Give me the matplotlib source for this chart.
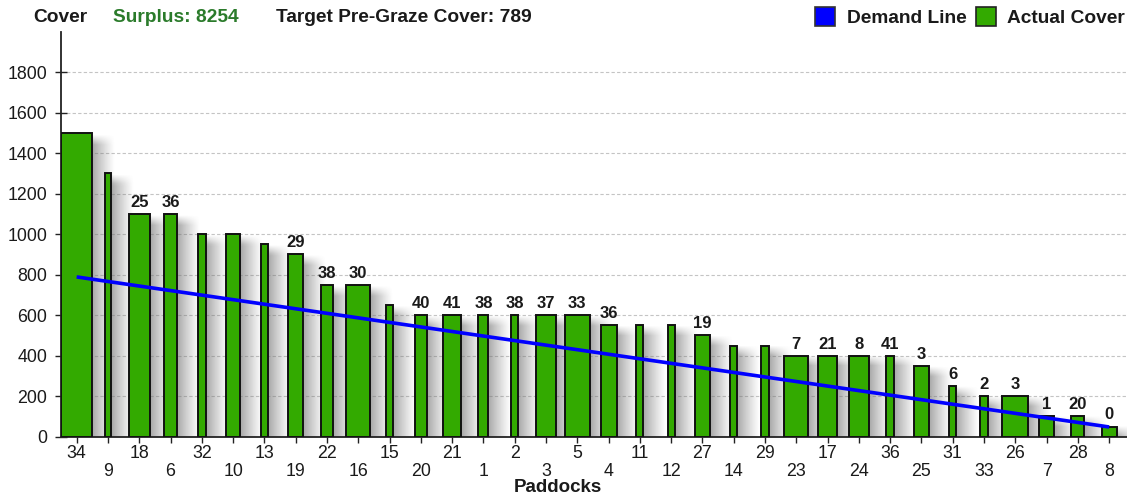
import numpy as np
import matplotlib
matplotlib.use('Agg')
import matplotlib.pyplot as plt
from matplotlib.patches import Patch

# ---------------- data ----------------
paddocks = ['34', '9', '18', '6', '32', '10', '13', '19', '22', '16', '15', '20',
            '21', '1', '2', '3', '5', '4', '11', '12', '27', '14', '29', '23',
            '17', '24', '36', '25', '31', '33', '26', '7', '28', '8']
cover = [1500, 1300, 1100, 1100, 1000, 1000, 950, 900, 750, 750, 650, 600,
         600, 600, 600, 600, 600, 550, 550, 550, 500, 450, 450, 400,
         400, 400, 400, 350, 250, 200, 200, 100, 100, 50]
# relative bar widths (paddock size)
widths = [0.99, 0.21, 0.66, 0.40, 0.25, 0.47, 0.23, 0.47, 0.37, 0.78, 0.21, 0.39,
          0.56, 0.32, 0.21, 0.66, 0.80, 0.51, 0.23, 0.23, 0.46, 0.23, 0.23, 0.78,
          0.58, 0.66, 0.24, 0.47, 0.24, 0.28, 0.83, 0.48, 0.42, 0.48]
bar_labels = ['', '', '25', '36', '', '', '', '29', '38', '30', '', '40',
              '41', '38', '38', '37', '33', '36', '', '', '19', '', '', '7',
              '21', '8', '41', '3', '6', '2', '3', '1', '20', '0']
demand_paddocks = ['34', '8']
demand_values = [789, 48]
surplus = 8254
target_cover = 789
y_ticks = [0, 200, 400, 600, 800, 1000, 1200, 1400, 1600, 1800]

# ---------------- style ----------------
GREEN = '#33AA00'
BLUE = '#0000FF'
TXT = '#1a1a1a'
plt.rcParams['font.family'] = ['Liberation Sans', 'DejaVu Sans']

W, H = 1127, 497
fig = plt.figure(figsize=(W / 100, H / 100), dpi=100)
ax = fig.add_axes([61 / W, 60.3 / H, 1 - 61 / W, 405 / H])

x = np.arange(len(paddocks))
ymax = 2000

# ---------------- shadows (gradient to the right of each bar) ----------------
px_per_unit_y = 405 / ymax
fade_units = 10 / px_per_unit_y
sw = 0.72
for xi, h, w in zip(x, cover, widths):
    nx, ny = 48, 90
    t = np.linspace(0, 1, nx)
    a_x = 0.62 * (1 - t) ** 1.15
    ys = np.linspace(h, 0, ny)
    a_y = np.clip((h - ys) / fade_units, 0, 1)
    img = np.zeros((ny, nx, 4))
    img[..., :3] = 0.45
    img[..., 3] = a_y[:, None] * a_x[None, :]
    x0 = xi + w / 2
    ax.imshow(img, extent=(x0, x0 + sw, 0, h), aspect='auto',
              interpolation='bilinear', zorder=2, origin='upper')

ax.set_xlim(-0.5, 33.57)
ax.set_ylim(0, ymax)

# ---------------- bars ----------------
ax.bar(x, cover, width=widths, color=GREEN, edgecolor='#111111',
       linewidth=1.4, zorder=3)

for xi, h, lab in zip(x, cover, bar_labels):
    if lab:
        ax.annotate(lab, (xi, h), xytext=(0, 3), textcoords='offset points',
                    ha='center', va='bottom', fontsize=12, fontweight='bold',
                    color=TXT, zorder=5)

# ---------------- demand line ----------------
dx = [paddocks.index(p) for p in demand_paddocks]
ax.plot(dx, demand_values, color=BLUE, lw=2.6, zorder=4, solid_capstyle='butt')

# ---------------- axes ----------------
for s in ['top', 'right']:
    ax.spines[s].set_visible(False)
for s in ['left', 'bottom']:
    ax.spines[s].set_color('#222222')
    ax.spines[s].set_linewidth(1.3)

ax.set_yticks(y_ticks)
ax.set_yticklabels([str(v) for v in y_ticks])
ax.tick_params(axis='y', direction='inout', length=8.5, width=1,
               labelsize=12.8, labelcolor=TXT, color='#222222', pad=5.5)

ax.set_xticks(x[::2])
ax.set_xticklabels(paddocks[::2])
ax.set_xticks(x[1::2], minor=True)
ax.set_xticklabels(paddocks[1::2], minor=True)
ax.tick_params(axis='x', which='both', direction='out', length=4.5, width=1,
               labelsize=12.8, labelcolor=TXT, color='#222222')
ax.tick_params(axis='x', which='major', pad=1.3)
ax.tick_params(axis='x', which='minor', pad=14.3)

ax.yaxis.grid(True, linestyle=(0, (3, 2)), color='#c4c4c4', lw=0.8)
ax.set_axisbelow(True)

# ---------------- header texts ----------------
ty = 1 - 18 / H
fig.text(33 / W, ty, 'Cover', ha='left', va='center', fontsize=13.8,
         fontweight='bold', color=TXT)
fig.text(113 / W, ty, f'Surplus: {surplus}', ha='left', va='center',
         fontsize=13.8, fontweight='bold', color='#2B7B2B')
fig.text(276 / W, ty, f'Target Pre-Graze Cover: {target_cover}', ha='left',
         va='center', fontsize=13.8, fontweight='bold', color=TXT)
fig.text(558 / W, 1 - 487 / H, 'Paddocks', ha='center', va='center',
         fontsize=13.5, fontweight='bold', color=TXT)

handles = [Patch(facecolor=BLUE, edgecolor='#333333', linewidth=1.2, label='Demand Line'),
           Patch(facecolor=GREEN, edgecolor='#222222', linewidth=1.2, label='Actual Cover')]
fig.legend(handles=handles, loc='upper right', bbox_to_anchor=(1 - 2 / W, 1 - 7 / H),
           ncol=2, frameon=False, prop={'weight': 'bold', 'size': 13.8},
           handlelength=1.03, handleheight=1.13, handletextpad=0.6,
           columnspacing=0.5, borderaxespad=0.0, borderpad=0.0, labelcolor=TXT)

fig.savefig('out.png', dpi=100)
